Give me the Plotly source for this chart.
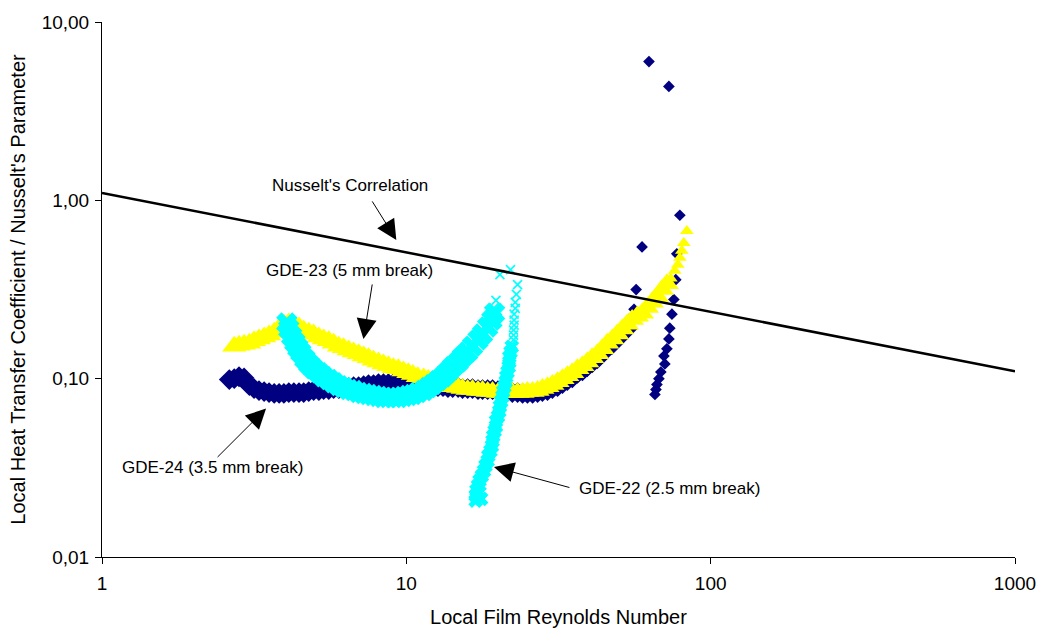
import numpy as np
import plotly.graph_objects as go

# ---------------- data ----------------
# Nusselt's correlation (straight line on log-log axes)
nusselt_re = [1, 1000]
nusselt_h = [1.1, 0.11]

# GDE-24 (3.5 mm break) - navy diamonds, dense band
gde24_re = [2.62, 2.72, 2.82, 2.93, 3.05, 3.16, 3.28, 3.41, 3.54, 3.68,
            3.82, 3.96, 4.11, 4.27, 4.44, 4.60, 4.78, 4.96, 5.16, 5.35,
            5.56, 5.77, 6.00, 6.22, 6.46, 6.71, 6.97, 7.24, 7.51, 7.80,
            8.10, 8.41, 8.73, 9.07, 9.41, 9.78, 10.15, 10.5, 10.9, 11.4,
            11.8, 12.2, 12.7, 13.2, 13.7, 14.2, 14.8, 15.3, 15.9, 16.5,
            17.2, 17.8, 18.5, 19.2, 20.0, 20.7, 21.5, 22.3, 23.2, 24.1,
            25.0, 26.0, 27.0, 28.0, 29.1, 30.2, 31.4, 32.6, 33.8, 35.1,
            36.5, 37.9, 39.3, 40.8, 42.4, 44.0, 45.7, 47.5, 49.3, 51.2,
            53.1]
gde24_h = [0.0988, 0.100, 0.1025, 0.101, 0.0914, 0.0880, 0.0858, 0.0847, 0.0836, 0.0826,
           0.0826, 0.0826, 0.0836, 0.0836, 0.0836, 0.0836, 0.0847, 0.0858, 0.0858, 0.0869,
           0.0869, 0.0880, 0.0880, 0.0891, 0.0891, 0.0902, 0.0902, 0.0914, 0.0926, 0.0926,
           0.0938, 0.0938, 0.0938, 0.0938, 0.0938, 0.0926, 0.0926, 0.0926, 0.0914, 0.0914,
           0.0914, 0.0902, 0.0902, 0.0902, 0.0891, 0.0891, 0.0891, 0.0880, 0.0880, 0.0880,
           0.0869, 0.0869, 0.0869, 0.0869, 0.0858, 0.0858, 0.0847, 0.0836, 0.0836, 0.0826,
           0.0826, 0.0826, 0.0836, 0.0847, 0.0858, 0.0880, 0.0902, 0.0938, 0.0975, 0.101,
           0.107, 0.1105, 0.1165, 0.1225, 0.129, 0.138, 0.149, 0.156, 0.167, 0.178,
           0.190]
# GDE-24 scattered points at the high-Re end
gde24_sparse_re = [62.7, 72.9, 79.2, 59.5, 77.4, 56.9, 56.0, 53.9, 76.8, 75.7, 74.6,
                   73.4, 72.9, 71.8, 70.2, 70.7, 68.6, 67.6, 66.6, 66.1, 65.6]
gde24_sparse_h = [6.0, 4.35, 0.825, 0.548, 0.501, 0.316, 0.245, 0.215, 0.359, 0.278, 0.230,
                  0.192, 0.167, 0.147, 0.134, 0.121, 0.109, 0.100, 0.0926, 0.0869, 0.0815]

# GDE-23 (5 mm break) - yellow triangles
gde23_re = [2.72, 2.82, 2.93, 3.05, 3.16, 3.28, 3.41, 3.54, 3.68, 3.82,
            3.96, 4.11, 4.27, 4.44, 4.60, 4.78, 4.96, 5.16, 5.35, 5.56,
            5.77, 6.00, 6.22, 6.46, 6.71, 6.97, 7.24, 7.51, 7.80, 8.10,
            8.41, 8.73, 9.07, 9.41, 9.78, 10.15, 10.5, 10.9, 11.4, 11.8,
            12.2, 12.7, 13.2, 13.7, 14.2, 14.8, 15.3, 15.9, 16.5, 17.2,
            17.8, 18.5, 19.2, 20.0, 20.7, 21.5, 22.3, 23.2, 24.1, 25.0,
            26.0, 27.0, 28.0, 29.1, 30.2, 31.4, 32.6, 33.8, 35.1, 36.5,
            37.9, 39.3, 40.8, 42.4, 44.0, 45.7, 47.5, 49.3, 51.2, 53.1,
            55.2, 57.3, 59.5, 61.8, 64.1, 66.6, 69.2, 71.8]
gde23_h = [0.152, 0.154, 0.156, 0.158, 0.163, 0.167, 0.171, 0.176, 0.182, 0.192,
           0.202, 0.205, 0.200, 0.195, 0.187, 0.182, 0.178, 0.171, 0.167, 0.163,
           0.158, 0.152, 0.149, 0.145, 0.141, 0.138, 0.134, 0.131, 0.127, 0.124,
           0.121, 0.118, 0.115, 0.1135, 0.1105, 0.108, 0.1055, 0.1025, 0.101, 0.0988,
           0.0975, 0.095, 0.0938, 0.0914, 0.0902, 0.0891, 0.0880, 0.0869, 0.0869, 0.0858,
           0.0858, 0.0847, 0.0847, 0.0836, 0.0836, 0.0836, 0.0836, 0.0836, 0.0836, 0.0847,
           0.0847, 0.0858, 0.0880, 0.0902, 0.0926, 0.0962, 0.100, 0.104, 0.108, 0.1135,
           0.118, 0.124, 0.131, 0.138, 0.147, 0.158, 0.167, 0.178, 0.190, 0.202,
           0.215, 0.224, 0.233, 0.251, 0.268, 0.289, 0.316, 0.341]
gde23_top_re = [74.0, 76.2, 78.0, 79.2, 80.4, 81.6, 83.5]
gde23_top_h = [0.364, 0.403, 0.435, 0.476, 0.521, 0.577, 0.673]

# GDE-22 (2.5 mm break) - cyan crosses
gde22_loop_re = [4.05, 4.11, 4.20, 4.30, 4.40, 4.50, 4.64, 4.78, 4.96, 5.16,
                 5.35, 5.56, 5.77, 6.00, 6.22, 6.46, 6.71, 6.97, 7.24, 7.51,
                 7.80, 8.10, 8.41, 8.73, 9.07, 9.41, 9.78, 10.15, 10.5, 10.9,
                 11.4, 11.8, 12.2, 12.7, 13.2, 13.7, 14.2, 14.8, 15.3, 15.9,
                 16.5, 17.2, 17.8, 18.5, 19.1, 19.5]
gde22_loop_h = [0.205, 0.190, 0.173, 0.160, 0.149, 0.140, 0.129, 0.121, 0.1135, 0.108,
                0.1025, 0.0988, 0.095, 0.0914, 0.0891, 0.0869, 0.0858, 0.0836, 0.0826, 0.0815,
                0.0805, 0.0795, 0.0784, 0.0784, 0.0784, 0.0784, 0.0795, 0.0805, 0.0815, 0.0836,
                0.0858, 0.0891, 0.0926, 0.0975, 0.1025, 0.109, 0.1165, 0.124, 0.1325, 0.141,
                0.152, 0.165, 0.178, 0.195, 0.213, 0.233]
gde22_vert_re = [22.2, 22.0, 21.8, 21.8, 21.7, 21.5, 21.3, 21.2, 21.0, 20.8,
                 20.7, 20.5, 20.3, 20.2, 20.0, 19.7, 19.7, 19.5, 19.3, 19.2,
                 19.1, 18.9, 18.6, 18.5, 18.2, 18.0, 17.7, 17.4, 17.2, 17.0,
                 16.9, 16.9, 17.6, 17.4]
gde22_vert_h = [0.151, 0.141, 0.132, 0.124, 0.1165, 0.109, 0.1025, 0.0962, 0.0902, 0.0847,
                0.0795, 0.0745, 0.0699, 0.0656, 0.0615, 0.0577, 0.0541, 0.0508, 0.0476, 0.0447,
                0.0419, 0.0393, 0.0369, 0.0346, 0.0325, 0.0304, 0.0285, 0.0268, 0.0251, 0.0236,
                0.0221, 0.0207, 0.0212, 0.0230]
gde22_sparse_re = [19.4, 19.7, 20.3, 22.0, 23.2, 23.0, 22.8, 22.8, 22.6, 22.6,
                   22.6, 22.5, 22.5, 22.5, 22.3]
gde22_sparse_h = [0.250, 0.275, 0.383, 0.409, 0.337, 0.297, 0.268, 0.248, 0.230, 0.213,
                  0.1995, 0.187, 0.1755, 0.165, 0.1545]

# axis ticks
x_ticks = [1, 10, 100, 1000]
x_ticktext = ["1", "10", "100", "1000"]
y_ticks = [0.01, 0.1, 1, 10]
y_ticktext = ["0,01", "0,10", "1,00", "10,00"]

# annotation labels: text, text position, arrow tip, tail offset (px)
labels = ["Nusselt's Correlation", "GDE-23 (5 mm break)",
          "GDE-24 (3.5 mm break)", "GDE-22 (2.5 mm break)"]
label_re = [6.55, 6.5, 2.31, 73.5]
label_h = [1.21, 0.403, 0.0316, 0.0242]
tip_re = [9.27, 7.23, 3.46, 19.4]
tip_h = [0.60, 0.167, 0.068, 0.032]
tail_dx = [-25, 9, -50, 77]
tail_dy = [-40, -56, 50, 21]

FONT = "Liberation Sans, Arial, sans-serif"

fig = go.Figure()

fig.add_trace(go.Scatter(x=gde24_re, y=gde24_h, mode="markers",
                         marker=dict(symbol="diamond", size=16, color="#000080")))
fig.add_trace(go.Scatter(x=gde24_sparse_re, y=gde24_sparse_h, mode="markers",
                         marker=dict(symbol="diamond", size=9, color="#000080")))
fig.add_trace(go.Scatter(x=gde23_re, y=gde23_h, mode="markers",
                         marker=dict(symbol="triangle-up", size=21, color="#FFFF00")))
fig.add_trace(go.Scatter(x=gde23_top_re, y=gde23_top_h, mode="markers",
                         marker=dict(symbol="triangle-up", size=12, color="#FFFF00")))
fig.add_trace(go.Scatter(x=gde22_loop_re, y=gde22_loop_h, mode="markers",
                         marker=dict(symbol="x", size=19, color="#00FFFF")))
fig.add_trace(go.Scatter(x=gde22_vert_re, y=gde22_vert_h, mode="markers",
                         marker=dict(symbol="x", size=13, color="#00FFFF")))
fig.add_trace(go.Scatter(x=gde22_sparse_re, y=gde22_sparse_h, mode="markers",
                         marker=dict(symbol="x-thin", size=9,
                                     line=dict(color="#00FFFF", width=1.6))))
fig.add_trace(go.Scatter(x=nusselt_re, y=nusselt_h, mode="lines",
                         line=dict(color="black", width=2.5)))

annotations = []
for t, lx, ly in zip(labels, label_re, label_h):
    annotations.append(dict(x=np.log10(lx), y=np.log10(ly), xref="x", yref="y",
                            text=t, showarrow=False,
                            font=dict(family=FONT, size=17, color="black")))
for tx, ty, dx, dy in zip(tip_re, tip_h, tail_dx, tail_dy):
    annotations.append(dict(x=np.log10(tx), y=np.log10(ty), xref="x", yref="y",
                            text="", showarrow=True, ax=dx, ay=dy,
                            arrowhead=2, arrowsize=4, arrowwidth=1,
                            arrowcolor="black", standoff=0, startstandoff=0))

fig.update_layout(
    width=1048, height=637, autosize=False,
    margin=dict(l=102, r=28, t=17, b=79),
    paper_bgcolor="white", plot_bgcolor="white",
    showlegend=False,
    font=dict(family=FONT, size=17, color="black"),
    annotations=annotations,
)
fig.update_xaxes(type="log", range=[0, 3], showgrid=False, zeroline=False,
                 showline=True, linecolor="black", linewidth=1,
                 ticks="outside", ticklen=6, tickcolor="black", tickwidth=1,
                 tickvals=x_ticks, ticktext=x_ticktext, ticklabelstandoff=3,
                 tickfont=dict(family=FONT, size=19, color="black"),
                 title=dict(text="Local Film Reynolds Number", standoff=17,
                            font=dict(family=FONT, size=20, color="black")))
fig.update_yaxes(type="log", range=[-2, 1], showgrid=False, zeroline=False,
                 showline=True, linecolor="black", linewidth=1,
                 ticks="outside", ticklen=6, tickcolor="black", tickwidth=1,
                 tickvals=y_ticks, ticktext=y_ticktext, ticklabelstandoff=2,
                 tickfont=dict(family=FONT, size=19, color="black"),
                 title=dict(text="Local Heat Transfer Coefficient / Nusselt's Parameter",
                            standoff=10,
                            font=dict(family=FONT, size=20, color="black")))

fig.write_html("out.html")
